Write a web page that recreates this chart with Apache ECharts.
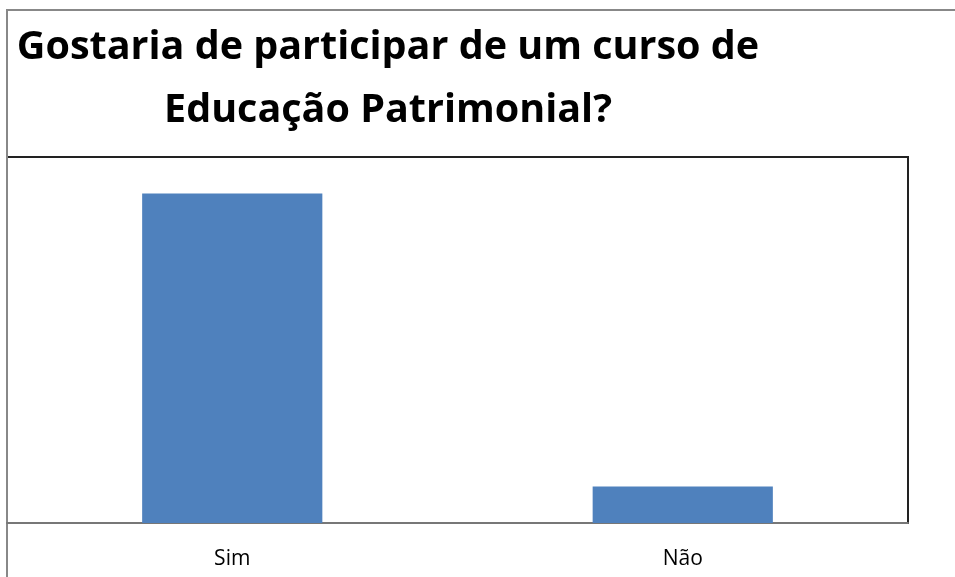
<!DOCTYPE html>
<html>
<head>
<meta charset="utf-8">
<script src="https://cdn.jsdelivr.net/npm/echarts@6/dist/echarts.min.js"></script>
<style>
html, body { margin: 0; padding: 0; background: #fff; }
#main { width: 955px; height: 577px; }
</style>
</head>
<body>
<div id="main"></div>
<script>
var myChart = echarts.init(document.getElementById('main'));
var categories = ['Sim', 'Não'];
var values = [90, 10];
var yMax = 100;

var option = {
	animation: false,
	title: {
		text: 'Gostaria de participar de um curso de\nEducação Patrimonial?',
		left: 383,
		top: 11,
		textAlign: 'center',
		textStyle: {
			fontFamily: 'Open Sans',
			fontWeight: 'bold',
			fontSize: 39.5,
			lineHeight: 63,
			color: '#000'
		}
	},
	graphic: [{
		type: 'rect',
		shape: { x: 7, y: 10, width: 960, height: 580 },
		style: { fill: 'none', stroke: '#888', lineWidth: 2 },
		z: 0
	}],
	grid: {
		left: 7,
		right: 47,
		top: 157,
		bottom: 54,
		show: true,
		borderColor: '#222',
		borderWidth: 2
	},
	xAxis: {
		type: 'category',
		data: categories,
		axisTick: { show: false },
		axisLine: { lineStyle: { color: '#777', width: 2 } },
		axisLabel: {
			margin: 26,
			fontFamily: 'Open Sans',
			fontSize: 21,
			color: '#000'
		}
	},
	yAxis: {
		type: 'value',
		min: 0,
		max: yMax,
		show: false,
		splitLine: { show: false }
	},
	series: [{
		type: 'bar',
		data: values,
		barWidth: '40%',
		itemStyle: { color: '#4f81bd' }
	}]
};
myChart.setOption(option);
window.onresize = myChart.resize;
</script>
</body>
</html>
